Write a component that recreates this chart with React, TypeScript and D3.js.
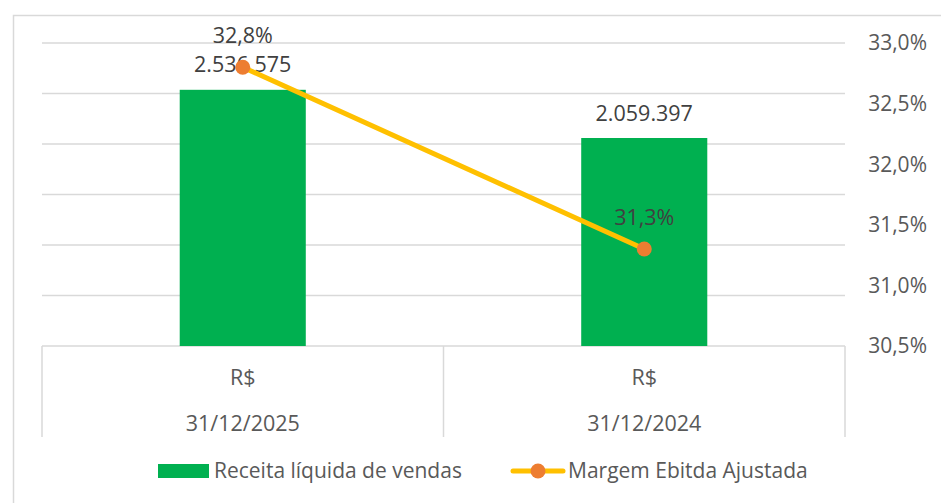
import { useEffect, useRef } from "react";
import * as d3 from "d3";

// values
const categories = ["31/12/2025", "31/12/2024"];
const currencyLabels = ["R$", "R$"];
const revenue = [2536575, 2059397];
const ebitdaMargin = [32.8, 31.3];
const revenueTicks = [0, 500000, 1000000, 1500000, 2000000, 2500000, 3000000];
const marginTicks = [30.5, 31.0, 31.5, 32.0, 32.5, 33.0];
const seriesNames = ["Receita líquida de vendas", "Margem Ebitda Ajustada"];

const App = () => {
  const svgRef = useRef<SVGSVGElement | null>(null);

  useEffect(() => {
    const width = 941;
    const height = 503;
    const plot = { left: 42, right: 845, top: 43, bottom: 346 };
    const catBottom = 437;

    const font = "'Open Sans', sans-serif";
    const grid = "#d9d9d9";
    const green = "#00b050";
    const yellow = "#ffc000";
    const orange = "#ed7d31";
    const labelColor = "#404040";
    const axisColor = "#595959";

    const svg = d3.select(svgRef.current).attr("width", width).attr("height", height);
    svg.selectAll("*").remove();

    // Outer chart border (top + left visible)
    svg
      .append("path")
      .attr("d", `M13.5,${height} V15.5 H${width}`)
      .attr("fill", "none")
      .attr("stroke", grid)
      .attr("stroke-width", 1.5);

    // Scales
    const x = d3.scaleBand().domain(categories).range([plot.left, plot.right]).padding(0);
    const yLeft = d3
      .scaleLinear()
      .domain([0, d3.max(revenueTicks) as number])
      .range([plot.bottom, plot.top]);
    const yRight = d3
      .scaleLinear()
      .domain([d3.min(marginTicks) as number, d3.max(marginTicks) as number])
      .range([plot.bottom, plot.top]);

    const barWidth = x.bandwidth() * 0.314;
    const cx = (c: string) => (x(c) || 0) + x.bandwidth() / 2;

    // Gridlines (primary axis, labels hidden)
    svg
      .append("g")
      .selectAll("line")
      .data(revenueTicks.filter((t) => t > 0))
      .join("line")
      .attr("x1", plot.left)
      .attr("x2", plot.right)
      .attr("y1", (d) => yLeft(d))
      .attr("y2", (d) => yLeft(d))
      .attr("stroke", grid)
      .attr("stroke-width", 1.5);

    // Category box (multi-level axis)
    const catG = svg.append("g").attr("stroke", grid).attr("stroke-width", 1.5);
    catG
      .append("line")
      .attr("x1", plot.left)
      .attr("x2", plot.right)
      .attr("y1", yLeft(0))
      .attr("y2", yLeft(0));
    const dividers = [plot.left, ...categories.map((c) => (x(c) || 0) + x.bandwidth())];
    catG
      .selectAll("line.div")
      .data(dividers)
      .join("line")
      .attr("class", "div")
      .attr("x1", (d) => d)
      .attr("x2", (d) => d)
      .attr("y1", yLeft(0))
      .attr("y2", catBottom);

    const catText = svg
      .append("g")
      .attr("font-family", font)
      .attr("font-size", 21.5)
      .attr("fill", axisColor)
      .attr("text-anchor", "middle");
    catText
      .selectAll("text.cur")
      .data(categories)
      .join("text")
      .attr("class", "cur")
      .attr("x", (d) => cx(d))
      .attr("y", 377)
      .attr("dy", "0.35em")
      .text((_, i) => currencyLabels[i]);
    catText
      .selectAll("text.date")
      .data(categories)
      .join("text")
      .attr("class", "date")
      .attr("x", (d) => cx(d))
      .attr("y", 423)
      .attr("dy", "0.35em")
      .text((d) => d);

    // Right axis labels
    svg
      .append("g")
      .attr("font-family", font)
      .attr("font-size", 21)
      .attr("fill", axisColor)
      .attr("text-anchor", "end")
      .selectAll("text")
      .data(marginTicks)
      .join("text")
      .attr("x", 927)
      .attr("y", (d) => yRight(d))
      .attr("dy", "0.35em")
      .text((d) => d3.format(".1f")(d).replace(".", ",") + "%");

    // Bars
    svg
      .append("g")
      .selectAll("rect")
      .data(categories)
      .join("rect")
      .attr("x", (d) => cx(d) - barWidth / 2)
      .attr("y", (_, i) => yLeft(revenue[i]))
      .attr("width", barWidth)
      .attr("height", (_, i) => yLeft(0) - yLeft(revenue[i]))
      .attr("fill", green);

    // Bar labels
    const thousands = (v: number) => d3.format(",")(v).replace(/,/g, ".");
    svg
      .append("g")
      .attr("font-family", font)
      .attr("font-size", 21.5)
      .attr("fill", labelColor)
      .attr("text-anchor", "middle")
      .selectAll("text")
      .data(categories)
      .join("text")
      .attr("x", (d) => cx(d))
      .attr("y", (_, i) => yLeft(revenue[i]) - 25)
      .attr("dy", "0.35em")
      .text((_, i) => thousands(revenue[i]));

    // Margin line
    const pts = categories.map((c, i) => [cx(c), yRight(ebitdaMargin[i])] as [number, number]);
    svg
      .append("path")
      .attr("d", d3.line()(pts))
      .attr("fill", "none")
      .attr("stroke", yellow)
      .attr("stroke-width", 5)
      .attr("stroke-linecap", "round");
    svg
      .append("g")
      .selectAll("circle")
      .data(pts)
      .join("circle")
      .attr("cx", (d) => d[0])
      .attr("cy", (d) => d[1])
      .attr("r", 7.5)
      .attr("fill", orange);

    svg
      .append("g")
      .attr("font-family", font)
      .attr("font-size", 21.5)
      .attr("fill", labelColor)
      .attr("text-anchor", "middle")
      .selectAll("text")
      .data(pts)
      .join("text")
      .attr("x", (d) => d[0])
      .attr("y", (d) => d[1] - 32)
      .attr("dy", "0.35em")
      .text((_, i) => d3.format(".1f")(ebitdaMargin[i]).replace(".", ",") + "%");

    // Legend
    const legend = svg.append("g").attr("font-family", font).attr("font-size", 21).attr("fill", axisColor);
    legend.append("rect").attr("x", 158).attr("y", 464).attr("width", 51).attr("height", 14).attr("fill", green);
    legend.append("text").attr("x", 214).attr("y", 471).attr("dy", "0.35em").text(seriesNames[0]);
    legend
      .append("line")
      .attr("x1", 513)
      .attr("x2", 563)
      .attr("y1", 471)
      .attr("y2", 471)
      .attr("stroke", yellow)
      .attr("stroke-width", 5)
      .attr("stroke-linecap", "round");
    legend.append("circle").attr("cx", 538).attr("cy", 471).attr("r", 7.5).attr("fill", orange);
    legend.append("text").attr("x", 568).attr("y", 471).attr("dy", "0.35em").text(seriesNames[1]);
  }, []);

  return (
    <div style={{ position: "absolute", left: 0, top: 0, background: "#fff" }}>
      <svg ref={svgRef} style={{ display: "block" }} />
    </div>
  );
};

export default App;
